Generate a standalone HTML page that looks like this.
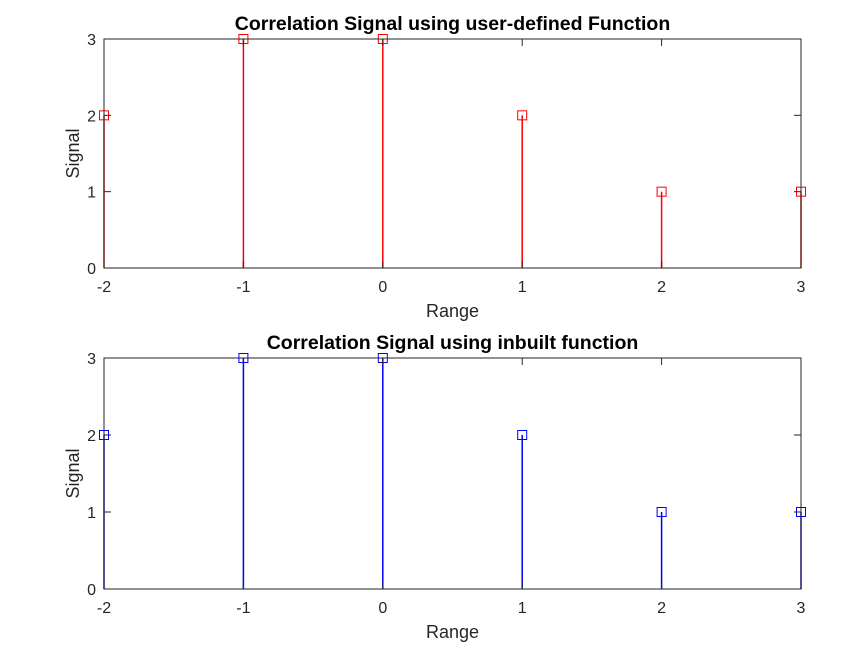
<!DOCTYPE html>
<html><head><meta charset="utf-8"><style>
body{margin:0;background:#fff;}
svg text{font-family:"Liberation Sans",Arial,sans-serif;fill:#262626;}
</style></head><body>
<svg id="c" width="847" height="654" xmlns="http://www.w3.org/2000/svg"></svg>
<script>
const categories=[-2,-1,0,1,2,3];
const userValues=[2,3,3,2,1,1];
const inbuiltValues=[2,3,3,2,1,1];
const xTickLabels=["-2","-1","0","1","2","3"];
const yTickLabels=["0","1","2","3"];
const NS="http://www.w3.org/2000/svg";
const svg=document.getElementById('c');
function mk(t,a,p){const e=document.createElementNS(NS,t);for(const k in a)e.setAttribute(k,a[k]);(p||svg).appendChild(e);return e;}
function panel(top,bottom,title,vals,color,pname){
  const L=104,R=801;
  const g=mk('g',{});
  
  
  const xs=v=>L+(v-(-2))/5*(R-L);
  const ys=v=>bottom-v/3*(bottom-top);
  mk('rect',{x:L,y:top,width:R-L,height:bottom-top,fill:'#fff',stroke:'none'},g);
  vals.forEach((v,i)=>{
    const x=xs(categories[i]);
    const ln=mk('line',{x1:x,x2:x,y1:ys(0),y2:ys(v),stroke:color,'stroke-width':1.5},g);
    
    
    const m=mk('rect',{x:x-4.5,y:ys(v)-4.5,width:9,height:9,fill:'none',stroke:color,'stroke-width':1},g);
    
    
  });
  mk('rect',{x:L,y:top,width:R-L,height:bottom-top,fill:'none',stroke:'#262626','stroke-width':1},g);
  categories.forEach((c,i)=>{
    const x=xs(c);
    mk('line',{x1:x,x2:x,y1:bottom,y2:bottom-7,stroke:'#262626'},g);
    mk('line',{x1:x,x2:x,y1:top,y2:top+7,stroke:'#262626'},g);
    const t=mk('text',{x:x,y:bottom+24,'text-anchor':'middle','font-size':16},g);t.textContent=xTickLabels[i];
    
    
  });
  yTickLabels.forEach((lab,i)=>{
    const y=ys(+lab);
    mk('line',{x1:L,x2:L+7,y1:y,y2:y,stroke:'#262626'},g);
    mk('line',{x1:R,x2:R-7,y1:y,y2:y,stroke:'#262626'},g);
    const t=mk('text',{x:L-8,y:y+6,'text-anchor':'end','font-size':16},g);t.textContent=lab;
    
    
  });
  const ti=mk('text',{x:(L+R)/2,y:top-9,'text-anchor':'middle','font-size':19.5,'font-weight':'bold',fill:'#000'},g);ti.textContent=title;ti.style.fill='#000';
  
  
  const xl=mk('text',{x:(L+R)/2,y:bottom+49,'text-anchor':'middle','font-size':18},g);xl.textContent='Range';
  
  
  const cy=(top+bottom)/2;
  const yl=mk('text',{x:79,y:cy,'text-anchor':'middle','font-size':18,transform:`rotate(-90 79 ${cy})`},g);yl.textContent='Signal';
  
  
}
panel(39,268,'Correlation Signal using user-defined Function',userValues,'#ff0000','top-panel');
panel(358,589,'Correlation Signal using inbuilt function',inbuiltValues,'#0000ff','bottom-panel');
</script>
</body></html>
